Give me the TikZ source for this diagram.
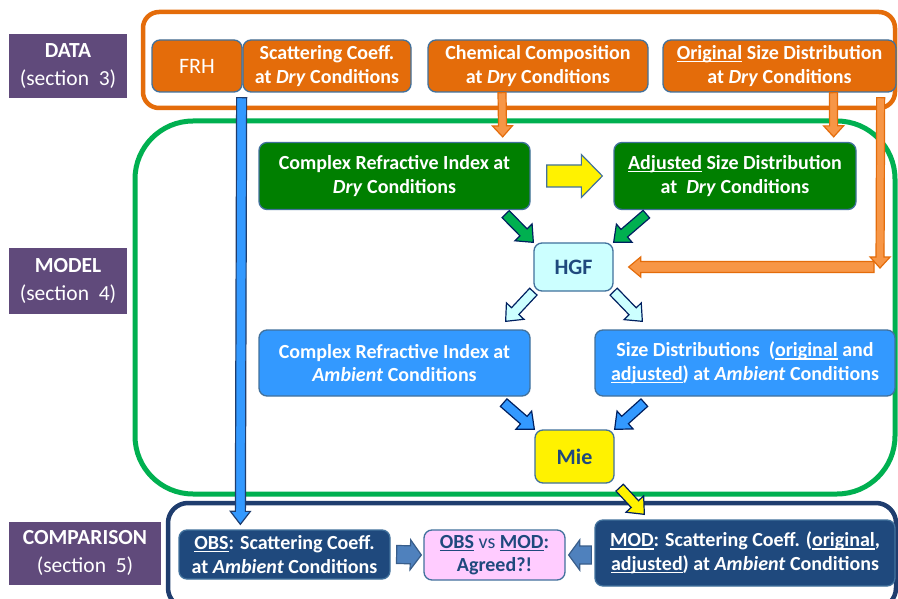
\documentclass[tikz,border=0pt]{standalone}
\usepackage{fontspec}
\setmainfont{Carlito}
\usetikzlibrary{calc}
\newcommand{\uln}[1]{\begingroup\setbox0=\hbox{#1}\rlap{\rule[-2.6pt]{\wd0}{1.1pt}}\box0\endgroup}

\definecolor{secpurple}{HTML}{604A7B}
\definecolor{dataorange}{HTML}{E46C0A}
\definecolor{arroworange}{HTML}{F79646}
\definecolor{boxline}{HTML}{41719C}
\definecolor{drygreen}{HTML}{007F00}
\definecolor{framegreen}{HTML}{00B050}
\definecolor{ambblue}{HTML}{3399FF}
\definecolor{cmpnavy}{HTML}{1F497D}
\definecolor{framenavy}{HTML}{1F3D6E}
\definecolor{arrownavy}{HTML}{002060}
\definecolor{hgfcyan}{HTML}{CCFFFF}
\definecolor{cmppink}{HTML}{FFCCFF}
\definecolor{steel}{HTML}{4F81BD}
\definecolor{steelline}{HTML}{385D8A}

\tikzset{
	box/.style={rounded corners=8pt,draw=boxline,line width=1.3pt,align=center,text=white,inner sep=1pt,font=\fontsize{20}{23.5}\selectfont\bfseries},
	secbox/.style={fill=secpurple,align=center,text=white,inner sep=1pt,font=\fontsize{21.5}{28}\selectfont\bfseries},
	databox/.style={box,fill=dataorange,minimum height=52pt},
	drybox/.style={box,fill=drygreen,minimum height=67pt},
	ambbox/.style={box,fill=ambblue,minimum height=66pt},
	smallbox/.style={box,text=cmpnavy,font=\fontsize{22}{26}\selectfont\bfseries,minimum width=79pt},
	cmpbox/.style={box,fill=cmpnavy},
	blockarrow/.style n args={3}{line width=1.2pt,to path={
		let \p1=(\tikztostart),\p2=(\tikztotarget),\n1={atan2(\y2-\y1,\x2-\x1)} in
		($(\p1)+(\n1+90:#1)$) -- ($(\p2)+(\n1+180:#3)+(\n1+90:#1)$) -- ($(\p2)+(\n1+180:#3)+(\n1+90:#2)$)
		-- (\p2) -- ($(\p2)+(\n1+180:#3)+(\n1-90:#2)$) -- ($(\p2)+(\n1+180:#3)+(\n1-90:#1)$)
		-- ($(\p1)+(\n1-90:#1)$) -- cycle}},
	linkarrow/.style={blockarrow={5pt}{12pt}{14pt},draw=arrownavy},
	orangearrow/.style={blockarrow={4pt}{10pt}{11pt},fill=arroworange,draw=dataorange},
	steelarrow/.style={blockarrow={9pt}{15pt}{11pt},fill=steel,draw=steelline}
}

\begin{document}
\begin{tikzpicture}[x=1pt,y=-1pt]
	\useasboundingbox (0,0) rectangle (898,599);
	\fill[white] (0,0) rectangle (898,599);

	\draw[dataorange,line width=4.5pt,rounded corners=16pt] (143,12) rectangle (895,108);
	\draw[framegreen,line width=5pt,rounded corners=58pt] (135,121) rectangle (895,494);
	\draw[framenavy,line width=4.5pt,rounded corners=20pt] (168,503) rectangle (896,608);

	\node[secbox,minimum width=118pt,minimum height=64pt] (datasec) at (68,66) {DATA\\{\mdseries(section\ \ 3)}};
	\node[secbox,minimum width=118pt,minimum height=65pt] (modelsec) at (68,281) {MODEL\\{\mdseries(section\ \ 4)}};
	\node[secbox,minimum width=152pt,minimum height=63pt] (compsec) at (85,553) {COMPARISON\\{\mdseries(section\ \ 5)}};

	\node[databox,minimum width=90pt,font=\fontsize{22}{26}\selectfont] (frh) at (197,66) {FRH};
	\node[databox,minimum width=168pt] (scat) at (327,66) {Scattering Coeff.\\at \textit{Dry} Conditions};
	\node[databox,minimum width=220pt] (chem) at (538,66) {Chemical Composition\\at \textit{Dry} Conditions};
	\node[databox,minimum width=233pt] (orig) at (779.5,66) {\uln{Original} Size Distribution\\at \textit{Dry} Conditions};

	\node[drybox,minimum width=271pt] (cridry) at (394.5,176) {Complex Refractive Index at\\\textit{Dry} Conditions};
	\node[drybox,minimum width=242pt] (adjdry) at (735,176) {\uln{Adjusted} Size Distribution\\at\ \ \textit{Dry} Conditions};
	\node[smallbox,fill=hgfcyan,minimum height=48pt] (hgf) at (573.5,267) {HGF};
	\node[ambbox,minimum width=271pt] (criamb) at (394.5,363) {Complex Refractive Index at\\\textit{Ambient} Conditions};
	\node[ambbox,minimum width=300pt] (sdamb) at (745,363) {Size Distributions\ \ (\uln{original} and\\\uln{adjusted}) at \textit{Ambient} Conditions};
	\node[smallbox,fill=yellow,minimum height=53pt] (mie) at (574.5,456.5) {Mie};

	\node[cmpbox,minimum width=211pt,minimum height=49pt] (obs) at (284.5,554.5) {\uln{OBS}: Scattering Coeff.\\at \textit{Ambient} Conditions};
	\node[box,fill=cmppink,text=cmpnavy,minimum width=141pt,minimum height=50pt] (cmp) at (494.5,555) {\uln{OBS} {\mdseries vs} \uln{MOD}:\\Agreed?!};
	\node[cmpbox,minimum width=300pt,minimum height=66pt] (modbox) at (745,553) {\uln{MOD}: Scattering Coeff. (\uln{original},\\\uln{adjusted}) at \textit{Ambient} Conditions};

	\draw[orangearrow] ($(chem.south)+(-36,0)$) to ($(cridry.north east)+(-28,-5)$);
	\draw[orangearrow] ($(orig.south)+(54,0)$) to ($(adjdry.north east)+(-23,-5)$);
	\coordinate (hgfin) at (880,268);
	\draw[orangearrow] ($(orig.south east)+(-16,5)$) to (hgfin);
	\draw[orangearrow,blockarrow={5.5pt}{10pt}{12pt}] ($(hgfin)+(-6,-1)$) to ($(hgf.east)+(15,0)$);
	\draw[blockarrow={5pt}{10pt}{13pt},fill=ambblue,draw=framenavy] ($(frh.south east)+(-1,5)$) to ($(obs.north west)+(62,-5)$);

	\draw[blockarrow={11pt}{21.5pt}{21pt},fill=yellow,draw=boxline] ($(cridry.east)+(16,0)$) to ($(adjdry.west)+(-11,0)$);
	\draw[linkarrow,fill=framegreen] ($(cridry.south east)+(-25,4)$) to (hgf.north west);
	\draw[linkarrow,fill=framegreen] ($(adjdry.south west)+(33,4)$) to (hgf.north east);
	\draw[linkarrow,fill=hgfcyan] (hgf.south west) to ($(criamb.north east)+(-25,-8)$);
	\draw[linkarrow,fill=hgfcyan] (hgf.south east) to ($(sdamb.north west)+(48,-8)$);
	\draw[linkarrow,fill=ambblue] ($(criamb.south east)+(-27,6)$) to (mie.north west);
	\draw[linkarrow,fill=ambblue] ($(sdamb.south west)+(50,6)$) to (mie.north east);
	\draw[linkarrow,fill=yellow] ($(mie.south east)+(5,4)$) to ($(modbox.north west)+(50,-5)$);

	\draw[steelarrow] ($(obs.east)+(6,0)$) to ($(cmp.west)+(-2,0)$);
	\draw[steelarrow] ($(modbox.west)+(-3,2)$) to ($(cmp.east)+(3,0)$);
\end{tikzpicture}
\end{document}
